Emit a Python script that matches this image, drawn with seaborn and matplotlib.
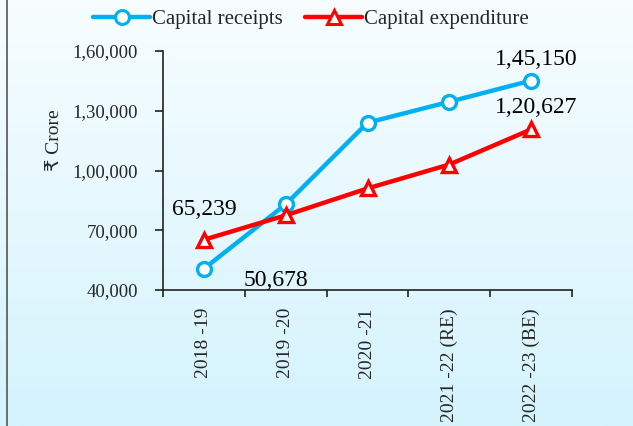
import numpy as np
import pandas as pd
import matplotlib
matplotlib.use("Agg")
import matplotlib.pyplot as plt
from matplotlib.lines import Line2D
import seaborn as sns

categories = ["2018 -19", "2019 -20", "2020 -21", "2021 -22 (RE)", "2022 -23 (BE)"]
capital_receipts = [50678, 83000, 124000, 134500, 145150]
capital_expenditure = [65239, 77500, 91000, 103000, 120627]
yticks = [40000, 70000, 100000, 130000, 160000]
ytick_labels = ["40,000", "70,000", "1,00,000", "1,30,000", "1,60,000"]
series_names = ["Capital receipts", "Capital expenditure"]

df = pd.DataFrame({
    "Year": categories * 2,
    "Value": capital_receipts + capital_expenditure,
    "Series": [series_names[0]] * 5 + [series_names[1]] * 5,
})

sns.set_theme(style="white")
plt.rcParams["font.family"] = ["Liberation Serif", "DejaVu Sans"]

fig = plt.figure(figsize=(6.33, 4.26), dpi=100)

# gradient background
bg = fig.add_axes([0, 0, 1, 1], zorder=-10)
grad = np.linspace(0, 1, 256).reshape(-1, 1)
top = np.array([247, 253, 255]) / 255
bot = np.array([212, 243, 253]) / 255
img = top + (bot - top) * grad[..., None]
bg.imshow(img, aspect="auto", extent=[0, 1, 0, 1], origin="upper")
bg.set_axis_off()
fig.add_artist(Line2D([7.5 / 633, 7.5 / 633], [0, 1], color="#555555", lw=1.2))

ax = fig.add_axes([163 / 633, 1 - 290 / 426, 409 / 633, 239 / 426])
ax.patch.set_alpha(0)

colors = {series_names[0]: "#00B0F0", series_names[1]: "#FF0000"}
markers = {series_names[0]: "o", series_names[1]: "^"}
sns.lineplot(data=df, x="Year", y="Value", hue="Series", style="Series",
             palette=colors, markers=markers, dashes=False, linewidth=3.2,
             markersize=10, ax=ax, legend=False, sort=False)
for ln, name in zip(ax.lines, series_names):
    ln.set_markerfacecolor("white")
    ln.set_markeredgecolor(colors[name])
    ln.set_markeredgewidth(2.4)

ax.set_xlim(-0.5, 4.5)
ax.set_ylim(40000, 160000)
ax.set_yticks(yticks)
ax.set_yticklabels(ytick_labels, fontsize=13.5)
ax.set_xticks(np.arange(-0.5, 5.0, 1.0))
ax.set_xticklabels([])
ax.set_xticks(np.arange(5), minor=True)
ax.set_xticklabels(categories, minor=True, rotation=90, fontsize=14)
ax.tick_params(axis="x", which="minor", length=0, pad=13)
ax.tick_params(axis="x", which="major", direction="out", length=5, width=1.2, color="#222222", bottom=True)
ax.tick_params(axis="y", direction="out", length=6, width=1.2, color="#222222", left=True, pad=12)
for s in ["top", "right"]:
    ax.spines[s].set_visible(False)
for s in ["left", "bottom"]:
    ax.spines[s].set_color("#222222")
    ax.spines[s].set_linewidth(1.2)
ax.set_xlabel("")
ax.set_ylabel("₹ Crore", fontsize=14)
ax.yaxis.set_label_coords(-0.245, 0.628)

# annotations
ann = [
    (0, capital_expenditure[0], "65,239", (0, 30)),
    (0, capital_receipts[0], "50,678", (72, -12)),
    (4, capital_receipts[4], "1,45,150", (5, 21)),
    (4, capital_expenditure[4], "1,20,627", (5, 22)),
]
for x, y, t, off in ann:
    ax.annotate(t, (x, y), xytext=off, textcoords="offset pixels",
                ha="center", va="center", fontsize=17, color="black")

handles = [Line2D([], [], color=colors[n], marker=markers[n], lw=3.2, markersize=10,
                  markerfacecolor="white", markeredgecolor=colors[n], markeredgewidth=2.2)
           for n in series_names]
fig.legend(handles, series_names, loc="center", bbox_to_anchor=(311 / 633, 1 - 19 / 426),
           ncol=2, frameon=False, fontsize=15, handlelength=2.7,
           columnspacing=1.1, handletextpad=0.1)

fig.savefig("out.png", dpi=100)
